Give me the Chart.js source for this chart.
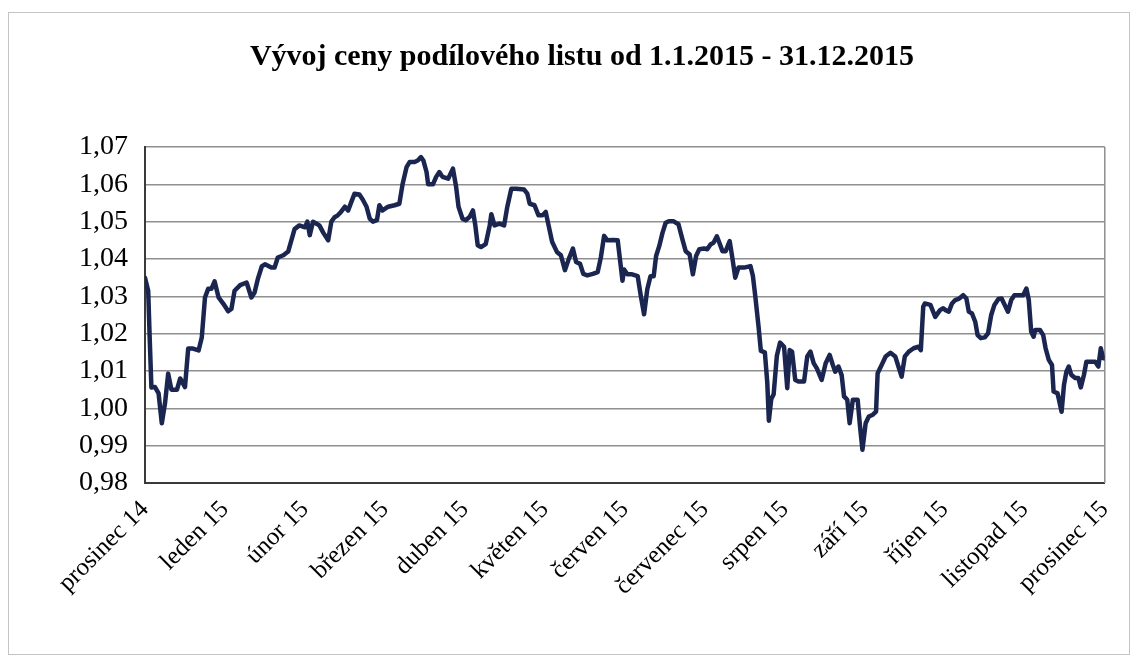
<!DOCTYPE html>
<html>
<head>
<meta charset="utf-8">
<script src="https://cdn.jsdelivr.net/npm/chart.js@4.4.1/dist/chart.umd.min.js"></script>
<style>
  html, body { margin: 0; padding: 0; background: #fff; }
  #wrap { width: 1138px; height: 656px; }
</style>
</head>
<body>
<div id="wrap"><canvas id="chart" width="1138" height="656"></canvas></div>
<script>
// Popisky osy x (měsíce)
const monthLabels = ['prosinec 14', 'leden 15', 'únor 15', 'březen 15', 'duben 15', 'květen 15',
  'červen 15', 'červenec 15', 'srpen 15', 'září 15', 'říjen 15', 'listopad 15', 'prosinec 15'];

// Poloha bodu v měsících od začátku osy (prosinec 14 = 0)
const monthPos = [
  0.00, 0.04, 0.06, 0.08, 0.125, 0.17, 0.21, 0.25, 0.29, 0.33, 0.40, 0.44, 0.50, 0.54, 0.60, 0.67,
  0.71, 0.75, 0.79, 0.83, 0.87, 0.92, 0.98, 1.04, 1.08, 1.12, 1.19, 1.27, 1.33, 1.37, 1.41, 1.46,
  1.50, 1.58, 1.62, 1.66, 1.73, 1.79, 1.83, 1.87, 1.93, 2.00, 2.03, 2.06, 2.10, 2.14, 2.18, 2.23,
  2.29, 2.33, 2.37, 2.41, 2.45, 2.50, 2.54, 2.58, 2.62, 2.68, 2.72, 2.77, 2.81, 2.85, 2.90, 2.93,
  2.97, 3.04, 3.12, 3.18, 3.22, 3.27, 3.31, 3.37, 3.41, 3.45, 3.48, 3.52, 3.54, 3.60, 3.64, 3.68,
  3.72, 3.79, 3.85, 3.89, 3.92, 3.97, 4.01, 4.06, 4.10, 4.13, 4.16, 4.20, 4.26, 4.31, 4.33, 4.37,
  4.43, 4.49, 4.53, 4.58, 4.64, 4.74, 4.78, 4.81, 4.87, 4.92, 4.97, 5.01, 5.05, 5.09, 5.15, 5.20,
  5.25, 5.30, 5.35, 5.39, 5.44, 5.48, 5.53, 5.60, 5.66, 5.70, 5.74, 5.78, 5.85, 5.91, 5.94, 5.97,
  5.99, 6.03, 6.09, 6.16, 6.20, 6.24, 6.28, 6.32, 6.36, 6.39, 6.43, 6.47, 6.51, 6.55, 6.61, 6.67,
  6.72, 6.76, 6.81, 6.85, 6.89, 6.93, 6.99, 7.03, 7.07, 7.11, 7.15, 7.18, 7.22, 7.26, 7.31, 7.34,
  7.38, 7.42, 7.49, 7.57, 7.60, 7.63, 7.67, 7.70, 7.75, 7.78, 7.80, 7.83, 7.86, 7.90, 7.94, 7.99,
  8.03, 8.06, 8.09, 8.13, 8.17, 8.24, 8.28, 8.32, 8.36, 8.40, 8.46, 8.51, 8.56, 8.60, 8.63, 8.67,
  8.71, 8.74, 8.78, 8.81, 8.85, 8.91, 8.94, 8.97, 9.01, 9.05, 9.10, 9.14, 9.16, 9.21, 9.26, 9.32,
  9.38, 9.42, 9.46, 9.50, 9.55, 9.61, 9.67, 9.70, 9.73, 9.75, 9.82, 9.88, 9.94, 9.98, 10.01, 10.05,
  10.09, 10.13, 10.18, 10.23, 10.27, 10.30, 10.34, 10.38, 10.41, 10.45, 10.50, 10.54, 10.58, 10.62,
  10.67, 10.71, 10.74, 10.79, 10.83, 10.87, 10.92, 10.98, 11.02, 11.05, 11.08, 11.11, 11.13, 11.19,
  11.23, 11.26, 11.30, 11.34, 11.36, 11.41, 11.46, 11.49, 11.52, 11.55, 11.58, 11.63, 11.67, 11.70,
  11.74, 11.77, 11.81, 11.88, 11.92, 11.95, 11.98, 12.00
];

// Cena podílového listu
const unitPrice = [
  1.0350, 1.0315, 1.0180, 1.0056, 1.0057, 1.0040, 0.9960, 1.0013, 1.0093, 1.0050, 1.0050, 1.0080, 1.0057, 1.0160, 1.0160, 1.0155,
  1.0190, 1.0297, 1.0320, 1.0320, 1.0340, 1.0297, 1.0280, 1.0260, 1.0266, 1.0315, 1.0330, 1.0337, 1.0297, 1.0310, 1.0346, 1.0380,
  1.0386, 1.0377, 1.0377, 1.0404, 1.0410, 1.0420, 1.0450, 1.0480, 1.0490, 1.0485, 1.0500, 1.0464, 1.0500, 1.0495, 1.0490, 1.0470,
  1.0450, 1.0500, 1.0512, 1.0517, 1.0526, 1.0540, 1.0530, 1.0553, 1.0575, 1.0573, 1.0560, 1.0540, 1.0508, 1.0500, 1.0504, 1.0544,
  1.0530, 1.0540, 1.0544, 1.0548, 1.0600, 1.0646, 1.0660, 1.0660, 1.0664, 1.0673, 1.0664, 1.0633, 1.0600, 1.0600, 1.0620, 1.0633,
  1.0620, 1.0615, 1.0642, 1.0593, 1.0540, 1.0508, 1.0504, 1.0513, 1.0530, 1.0490, 1.0437, 1.0432, 1.0440, 1.0490, 1.0520, 1.0490,
  1.0495, 1.0490, 1.0540, 1.0588, 1.0588, 1.0586, 1.0575, 1.0548, 1.0544, 1.0517, 1.0517, 1.0526, 1.0486, 1.0446, 1.0419, 1.0410,
  1.0370, 1.0401, 1.0428, 1.0392, 1.0387, 1.0360, 1.0356, 1.0360, 1.0365, 1.0405, 1.0462, 1.0450, 1.0451, 1.0450, 1.0396, 1.0342,
  1.0372, 1.0359, 1.0359, 1.0354, 1.0300, 1.0252, 1.0319, 1.0354, 1.0354, 1.0408, 1.0435, 1.0470, 1.0497, 1.0501, 1.0501, 1.0493,
  1.0452, 1.0421, 1.0412, 1.0359, 1.0408, 1.0426, 1.0428, 1.0426, 1.0439, 1.0444, 1.0461, 1.0444, 1.0421, 1.0421, 1.0448, 1.0408,
  1.0350, 1.0377, 1.0377, 1.0381, 1.0355, 1.0301, 1.0221, 1.0154, 1.0150, 1.0070, 0.9967, 1.0025, 1.0038, 1.0141, 1.0176, 1.0165,
  1.0054, 1.0156, 1.0152, 1.0076, 1.0072, 1.0072, 1.0139, 1.0152, 1.0121, 1.0107, 1.0076, 1.0121, 1.0143, 1.0116, 1.0098, 1.0112,
  1.0089, 1.0032, 1.0023, 0.9960, 1.0023, 1.0023, 0.9951, 0.9889, 0.9960, 0.9978, 0.9983, 0.9991, 1.0094, 1.0116, 1.0139, 1.0149,
  1.0139, 1.0112, 1.0085, 1.0139, 1.0152, 1.0161, 1.0165, 1.0156, 1.0272, 1.0281, 1.0277, 1.0245, 1.0263, 1.0268, 1.0263, 1.0259,
  1.0281, 1.0290, 1.0294, 1.0303, 1.0294, 1.0259, 1.0254, 1.0232, 1.0196, 1.0188, 1.0190, 1.0201, 1.0250, 1.0277,
  1.0293, 1.0294, 1.0281, 1.0259, 1.0290, 1.0303, 1.0303, 1.0303, 1.0321, 1.0290, 1.0205, 1.0192, 1.0210, 1.0210,
  1.0196, 1.0161, 1.0130, 1.0116, 1.0045, 1.0040, 0.9991, 1.0063, 1.0098, 1.0112, 1.0090, 1.0081, 1.0081, 1.0056,
  1.0090, 1.0125, 1.0125, 1.0125, 1.0112, 1.0161, 1.0134, 1.0134
];

const yTicks = { min: 0.98, max: 1.07, step: 0.01 };

const serif = "'Liberation Serif', 'Times New Roman', serif";

// Rámeček grafu a pravý okraj plochy
const framePlugin = {
  id: 'frame',
  beforeDraw(chart) {
    const ctx = chart.ctx;
    ctx.save();
    ctx.fillStyle = '#fff';
    ctx.fillRect(0, 0, chart.width, chart.height);
    ctx.strokeStyle = '#c4c4c4';
    ctx.lineWidth = 1;
    ctx.strokeRect(8.5, 12.5, chart.width - 17, chart.height - 14);
    ctx.restore();
  },
  beforeDatasetsDraw(chart) {
    const a = chart.chartArea;
    const ctx = chart.ctx;
    ctx.save();
    ctx.strokeStyle = '#8f8f8f';
    ctx.lineWidth = 1.5;
    ctx.beginPath();
    ctx.moveTo(a.right, a.top);
    ctx.lineTo(a.right, a.bottom);
    ctx.stroke();
    ctx.restore();
  }
};

const points = monthPos.map((x, i) => ({ x: x, y: unitPrice[i] }));

new Chart(document.getElementById('chart'), {
  type: 'line',
  data: {
    datasets: [{
      data: points,
      borderColor: '#1b2650',
      borderWidth: 4.5,
      borderJoinStyle: 'round',
      borderCapStyle: 'round',
      pointRadius: 0,
      tension: 0,
      fill: false
    }]
  },
  options: {
    responsive: false,
    animation: false,
    layout: { padding: { left: 57, right: 31, top: 0, bottom: 0 } },
    plugins: {
      legend: { display: false },
      tooltip: { enabled: false },
      title: {
        display: true,
        text: 'Vývoj ceny podílového listu od 1.1.2015 - 31.12.2015',
        color: '#000',
        font: { family: serif, size: 30, weight: 'bold' },
        padding: { top: 39, bottom: 72 }
      }
    },
    scales: {
      x: {
        type: 'linear',
        min: 0,
        max: monthLabels.length - 1,
        afterFit(scale) { scale.height = 173; },
        afterBuildTicks(scale) {
          scale.ticks = monthLabels.map((_, i) => ({ value: i }));
        },
        ticks: {
          autoSkip: false,
          minRotation: 45,
          maxRotation: 45,
          padding: 12,
          color: '#000',
          font: { family: serif, size: 25 },
          callback: (v) => monthLabels[v]
        },
        grid: { display: false, drawTicks: false },
        border: { display: true, color: '#3a3a3a', width: 2 }
      },
      y: {
        min: yTicks.min,
        max: yTicks.max,
        afterFit(scale) { scale.width = 88; },
        ticks: {
          stepSize: yTicks.step,
          padding: 17,
          color: '#000',
          font: { family: serif, size: 28 },
          callback: (v) => v.toFixed(2).replace('.', ',')
        },
        grid: { color: '#8f8f8f', lineWidth: 1.5, drawTicks: false },
        border: { display: true, color: '#3a3a3a', width: 2 }
      }
    }
  },
  plugins: [framePlugin]
});
</script>
</body>
</html>
